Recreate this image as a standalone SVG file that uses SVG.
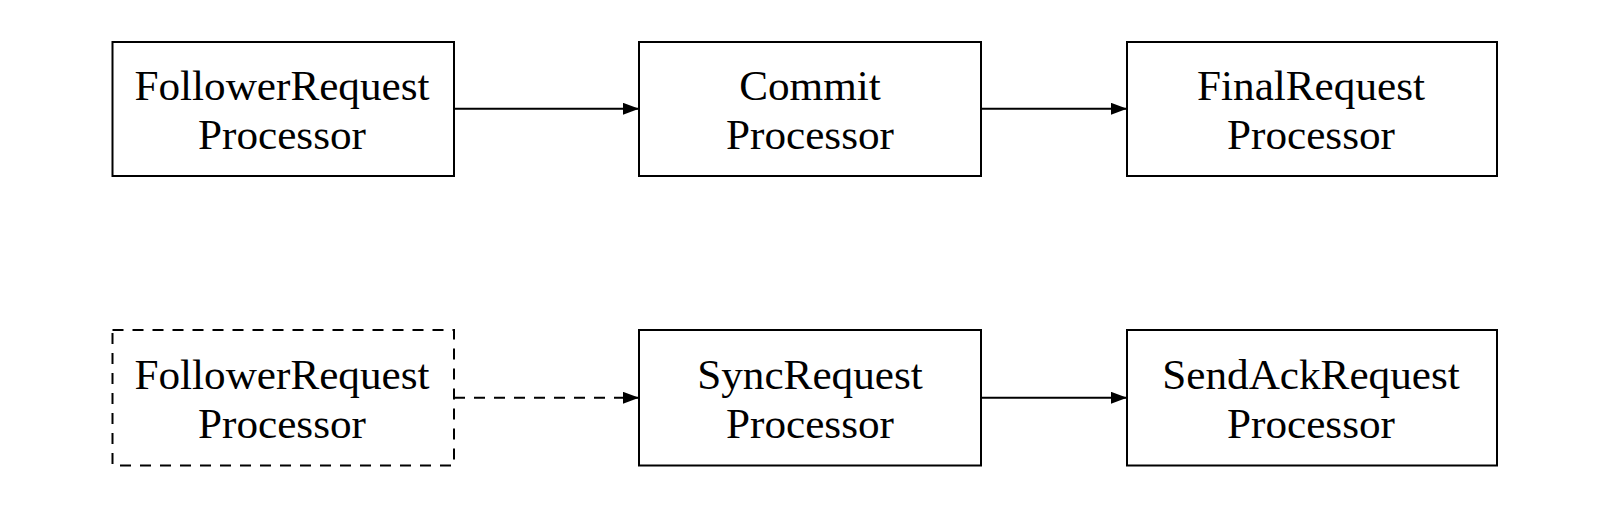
<svg xmlns="http://www.w3.org/2000/svg" width="1606" height="506" viewBox="0 0 1606 506">
<defs>
<marker id="arr" markerWidth="16" markerHeight="12" refX="16" refY="6" orient="auto" markerUnits="userSpaceOnUse">
<path d="M0,0 L16,6 L0,12 Z" fill="#000"/>
</marker>
<style>
.box{fill:#fff;stroke:#000;stroke-width:2}
.dash{stroke-dasharray:11 9}
.lbl{font-family:"Liberation Serif","Times New Roman",serif;font-size:43.2px;fill:#000;text-anchor:middle}
.edge{fill:none;stroke:#000;stroke-width:2}
</style>
</defs>
<rect width="1606" height="506" fill="#fff"/>
<g id="connectors">
<line class="edge" x1="454" y1="108.8" x2="639" y2="108.8" marker-end="url(#arr)"/>
<line class="edge" x1="981" y1="108.8" x2="1127" y2="108.8" marker-end="url(#arr)"/>
<line class="edge dash" x1="454" y1="397.8" x2="639" y2="397.8" marker-end="url(#arr)"/>
<line class="edge" x1="981" y1="397.8" x2="1127" y2="397.8" marker-end="url(#arr)"/>
</g>
<g id="follower1">
<rect class="box" x="112.5" y="42" width="341.5" height="134"/>
<text class="lbl" x="282" y="99.5">FollowerRequest</text>
<text class="lbl" x="282" y="149">Processor</text>
</g>
<g id="commit">
<rect class="box" x="639" y="42" width="342" height="134"/>
<text class="lbl" x="810" y="99.5">Commit</text>
<text class="lbl" x="810" y="149">Processor</text>
</g>
<g id="final">
<rect class="box" x="1127" y="42" width="370" height="134"/>
<text class="lbl" x="1311" y="99.5">FinalRequest</text>
<text class="lbl" x="1311" y="149">Processor</text>
</g>
<g id="follower2">
<rect class="box dash" x="112.5" y="330" width="341.5" height="135.5"/>
<text class="lbl" x="282" y="388.5">FollowerRequest</text>
<text class="lbl" x="282" y="438">Processor</text>
</g>
<g id="sync">
<rect class="box" x="639" y="330" width="342" height="135.5"/>
<text class="lbl" x="810" y="388.5">SyncRequest</text>
<text class="lbl" x="810" y="438">Processor</text>
</g>
<g id="sendack">
<rect class="box" x="1127" y="330" width="370" height="135.5"/>
<text class="lbl" x="1311" y="388.5">SendAckRequest</text>
<text class="lbl" x="1311" y="438">Processor</text>
</g>
</svg>
